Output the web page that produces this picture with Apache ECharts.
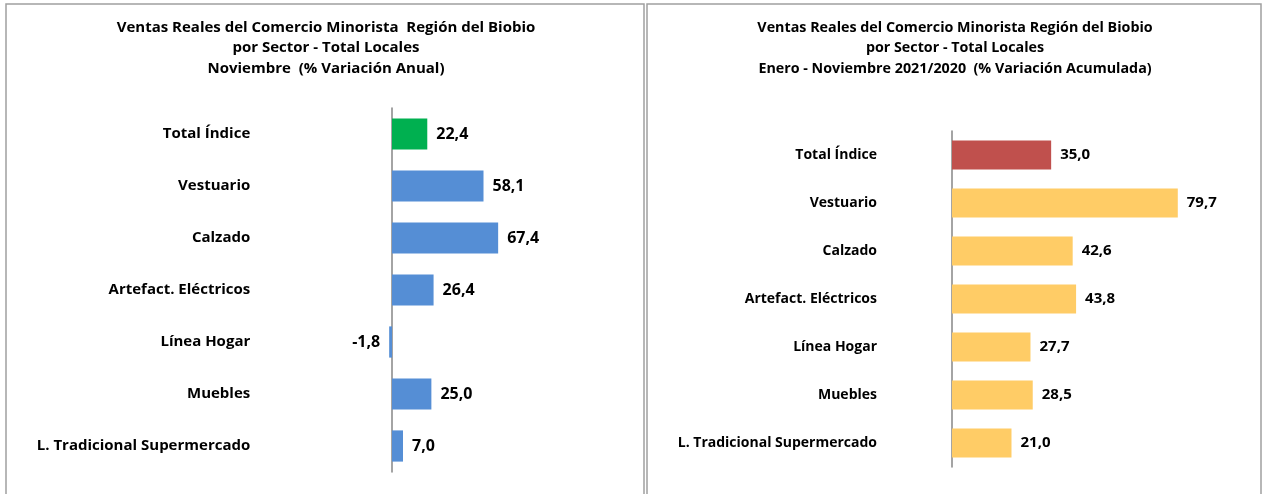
<!DOCTYPE html>
<html>
<head>
<meta charset="utf-8">
<script src="https://cdn.jsdelivr.net/npm/echarts@6/dist/echarts.min.js"></script>
<style>
  html, body { margin: 0; padding: 0; background: #fff; }
  #main { width: 1262px; height: 494px; }
</style>
</head>
<body>
<div id="main"></div>
<script>
// sectores (de arriba hacia abajo)
var categorias = ['Total Índice', 'Vestuario', 'Calzado', 'Artefact. Eléctricos',
    'Línea Hogar', 'Muebles', 'L. Tradicional Supermercado'];
// Noviembre, % variación anual
var variacionAnual = [22.4, 58.1, 67.4, 26.4, -1.8, 25.0, 7.0];
// Enero - Noviembre 2021/2020, % variación acumulada
var variacionAcum = [35.0, 79.7, 42.6, 43.8, 27.7, 28.5, 21.0];

var tituloIzq = 'Ventas Reales del Comercio Minorista  Región del Biobio\npor Sector - Total Locales\nNoviembre  (% Variación Anual)';
var tituloDer = 'Ventas Reales del Comercio Minorista Región del Biobio\npor Sector - Total Locales\nEnero - Noviembre 2021/2020  (% Variación Acumulada)';

var FONT = 'Open Sans';

function barras(valores, colorTotal, colorResto) {
    return valores.map(function (v, i) {
        return {
            value: v,
            itemStyle: {color: i === 0 ? colorTotal : colorResto},
            label: {position: v < 0 ? 'left' : 'right'}
        };
    });
}

function fmt(p) {
    return p.value.toFixed(1).replace('.', ',');
}

var chart = echarts.init(document.getElementById('main'));

var option = {
    animation: false,
    backgroundColor: '#fff',
    graphic: [
        {type: 'rect', shape: {x: 6, y: 4, width: 638, height: 520},
            style: {fill: 'none', stroke: '#a0a0a0', lineWidth: 1.5}},
        {type: 'rect', shape: {x: 647, y: 4, width: 614, height: 520},
            style: {fill: 'none', stroke: '#a0a0a0', lineWidth: 1.5}},
        {type: 'text', x: 326, y: 48, style: {text: tituloIzq, textAlign: 'center',
            textVerticalAlign: 'middle', font: 'bold 15px "' + FONT + '"', lineHeight: 20.5, fill: '#000'}},
        {type: 'text', x: 955, y: 48, style: {text: tituloDer, textAlign: 'center',
            textVerticalAlign: 'middle', font: 'bold 14.3px "' + FONT + '"', lineHeight: 20.5, fill: '#000'}}
    ],
    grid: [
        {left: 376.25, top: 108, width: 173.25, height: 364},
        {left: 952, top: 131, width: 283.3, height: 336}
    ],
    xAxis: [
        {gridIndex: 0, type: 'value', min: -10, max: 100, show: false},
        {gridIndex: 1, type: 'value', min: 0, max: 100, show: false}
    ],
    yAxis: [
        {
            gridIndex: 0, type: 'category', data: categorias, inverse: true,
            axisLine: {onZero: true, lineStyle: {color: '#868686', width: 1.5}},
            axisTick: {length: 5, lineStyle: {color: '#868686', width: 1.5}},
            // las etiquetas se miden desde el borde de la grilla, no desde el cero
            axisLabel: {margin: 126, color: '#000', fontFamily: FONT, fontWeight: 'bold', fontSize: 15}
        },
        {
            gridIndex: 1, type: 'category', data: categorias, inverse: true,
            axisLine: {onZero: true, lineStyle: {color: '#868686', width: 1.5}},
            axisTick: {length: 5, lineStyle: {color: '#868686', width: 1.5}},
            axisLabel: {margin: 75, color: '#000', fontFamily: FONT, fontWeight: 'bold', fontSize: 14}
        }
    ],
    series: [
        {
            type: 'bar', xAxisIndex: 0, yAxisIndex: 0, barCategoryGap: '40%',
            data: barras(variacionAnual, '#00B050', '#558ED5'),
            label: {show: true, distance: 9, formatter: fmt, color: '#000',
                fontFamily: FONT, fontWeight: 'bold', fontSize: 16}
        },
        {
            type: 'bar', xAxisIndex: 1, yAxisIndex: 1, barCategoryGap: '40%',
            data: barras(variacionAcum, '#C0504D', '#FFCC66'),
            label: {show: true, distance: 9, formatter: fmt, color: '#000',
                fontFamily: FONT, fontWeight: 'bold', fontSize: 15}
        }
    ]
};
chart.setOption(option);
</script>
</body>
</html>
